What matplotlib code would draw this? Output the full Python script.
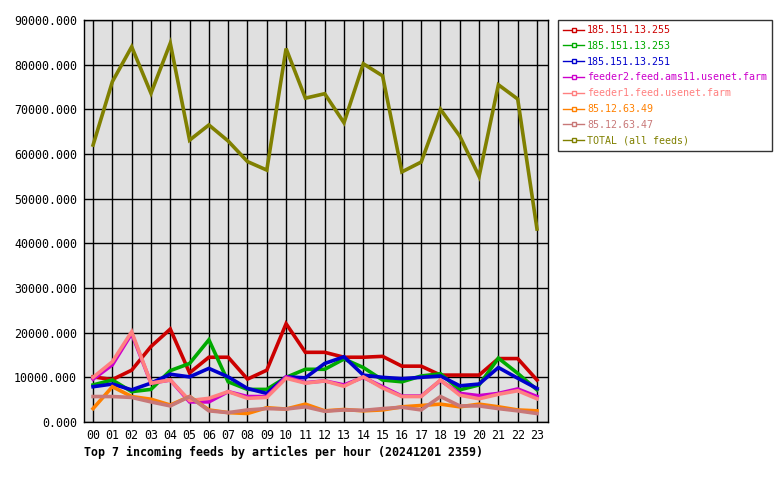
import matplotlib
matplotlib.use("Agg")
import matplotlib.pyplot as plt
from matplotlib.lines import Line2D

hours = ["%02d" % h for h in range(24)]
names = ["185.151.13.255", "185.151.13.253", "185.151.13.251",
         "feeder2.feed.ams11.usenet.farm", "feeder1.feed.usenet.farm",
         "85.12.63.49", "85.12.63.47", "TOTAL (all feeds)"]
colors = ["#cc0000", "#00aa00", "#0000cc", "#cc00cc", "#ff8080",
          "#ff8000", "#c87878", "#808000"]

red = [10100, 9500, 11600, 16900, 20800, 11000, 14500, 14500, 9600, 11600, 22000, 15600,
       15600, 14500, 14500, 14700, 12500, 12500, 10500, 10500, 10500, 14200, 14200, 9400]
green = [8300, 9400, 6800, 7300, 11500, 13100, 18400, 9000, 7300, 7300, 10000, 11800,
         11800, 14100, 12200, 9400, 9000, 10300, 10800, 7200, 8300, 14300, 10900, 7200]
blue = [7900, 8500, 7200, 8700, 10700, 10100, 12000, 10100, 7500, 6400, 10100, 9900,
        13100, 14600, 10500, 10000, 9700, 10000, 10300, 8100, 8500, 12200, 9800, 7500]
feeder2 = [9600, 12800, 19800, 8700, 9400, 4500, 4500, 6800, 5700, 5700, 10100, 8800,
           9200, 8300, 10000, 7900, 5800, 5800, 9300, 6400, 5900, 6400, 7400, 5700]
feeder1 = [10000, 13500, 20200, 8700, 9400, 4800, 5300, 6800, 5300, 5500, 9800, 8700,
           9200, 8000, 10100, 7600, 5700, 5700, 9400, 6000, 5200, 6200, 7000, 5200]
f49 = [3000, 7900, 5700, 5100, 3800, 5700, 2700, 2100, 1900, 3200, 2900, 4000,
       2500, 2800, 2500, 2700, 3400, 3700, 4000, 3400, 4000, 3400, 2700, 2500]
f47 = [5700, 5700, 5500, 4500, 3600, 5700, 2500, 2100, 2700, 3000, 2900, 3400,
       2400, 2700, 2600, 3000, 3300, 2700, 5700, 3600, 3600, 3000, 2500, 1900]
total = [62000, 76200, 84000, 73600, 84800, 63100, 66500, 62900, 58300, 56400, 83600, 72500,
         73500, 67000, 80200, 77500, 56000, 58200, 70000, 64000, 55000, 75500, 72300, 43200]

series = [red, green, blue, feeder2, feeder1, f49, f47, total]

plt.rcParams['font.family'] = ['DejaVu Sans Mono']
fig = plt.figure(figsize=(7.8, 4.8), dpi=100)
ax = fig.add_axes([84 / 780, 1 - 422 / 480, 464 / 780, 402 / 480])
ax.set_facecolor("#e0e0e0")

x = list(range(24))
for vals, c in zip(series, colors):
    ax.plot(x, vals, color=c, lw=2.6, solid_joinstyle="miter")

ax.set_xlim(-0.47, 23.57)
ax.set_ylim(0, 90000)
ax.set_xticks(x)
ax.set_xticklabels(hours)
ax.set_yticks(range(0, 90001, 10000))
ax.set_yticklabels(["%.3f" % v for v in range(0, 90001, 10000)])
ax.tick_params(length=0, labelsize=8.4, pad=5)
ax.grid(True, color="black", lw=1)
ax.set_axisbelow(True)
for s in ax.spines.values():
    s.set_color("black")
    s.set_linewidth(1)

fig.text(84 / 780, 1 - 452 / 480, "Top 7 incoming feeds by articles per hour (20241201 2359)",
         fontsize=8.4, fontweight="bold", va="center", ha="left")

handles = [Line2D([0], [0], color=c, lw=1, marker="s", markersize=3,
                  markerfacecolor="white", markeredgecolor=c) for c in colors]
leg = fig.legend(handles, names, loc="upper left", bbox_to_anchor=(558 / 780, 1 - 20 / 480),
                 numpoints=1, fontsize=7.2, labelcolor="linecolor", frameon=True,
                 fancybox=False, edgecolor="black", handlelength=2.1, handletextpad=0.3,
                 labelspacing=0.58, borderpad=0.5, borderaxespad=0)
leg.get_frame().set_linewidth(1)

fig.savefig("out.png", dpi=100)
